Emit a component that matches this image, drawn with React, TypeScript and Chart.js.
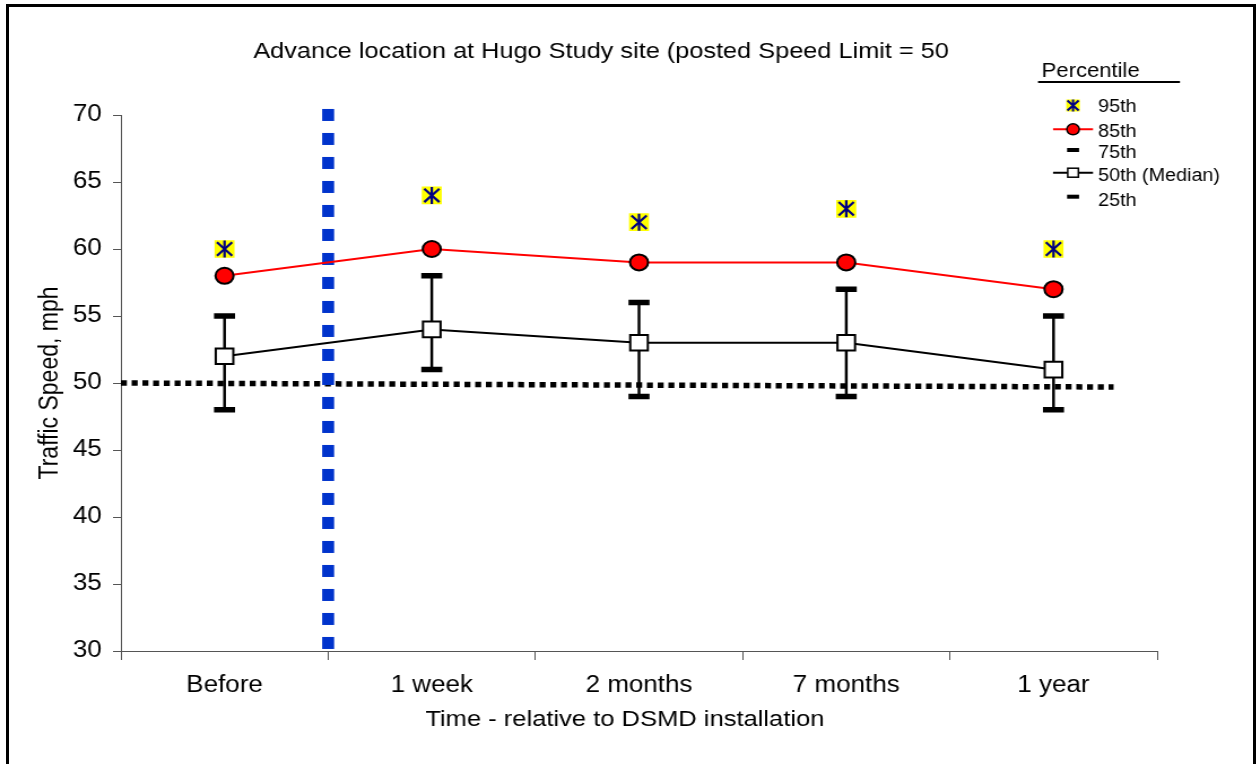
import React, { useEffect, useRef } from 'react';
import { Chart, registerables } from 'chart.js';

Chart.register(...registerables);

const FONT = '"Liberation Sans", Arial, Helvetica, sans-serif';

// ---- data ----
const categories = ['Before', '1 week', '2 months', '7 months', '1 year'];
const p95 = [60, 64, 62, 63, 60];
const p85 = [58, 60, 59, 59, 57];
const p75 = [55, 58, 56, 57, 55];
const p50 = [52, 54, 53, 53, 51];
const p25 = [48, 51, 49, 49, 48];
const yTickValues = [30, 35, 40, 45, 50, 55, 60, 65, 70];
// reference lines on a hidden linear x axis (0..5 spans the category axis)
const speedLimitLine = [
  { x: 0, y: 50 },
  { x: 4.79, y: 49.7 },
];
const installLine = [
  { x: 1, y: 70.45 },
  { x: 1, y: 30 },
];

const chartTitle = 'Advance location at Hugo Study site (posted Speed Limit = 50';
const xTitle = 'Time - relative to DSMD installation';
const yTitle = 'Traffic Speed, mph';
const legendTitle = 'Percentile';
const legendLabels = ['95th', '85th', '75th', '50th (Median)', '25th'];

// horizontal stretch applied to the canvas (the reference is stretched horizontally)
const STRETCH = 1.13;
const CW = 1114;
const CH = 764;

const overlayPlugin = {
  id: 'overlay',
  afterDraw(chart: any) {
    const ctx: CanvasRenderingContext2D = chart.ctx;
    ctx.save();
    ctx.fillStyle = '#000';
    ctx.textBaseline = 'alphabetic';
    ctx.textAlign = 'center';
    ctx.font = `22.4px ${FONT}`;
    ctx.fillText(chartTitle, 531.9, 58);
    ctx.font = `22.6px ${FONT}`;
    ctx.fillText(xTitle, 553, 726);

    // legend
    ctx.textAlign = 'left';
    ctx.font = `19.5px ${FONT}`;
    ctx.fillText(legendTitle, 921.8, 77);
    ctx.fillRect(918.6, 81, 125.6, 2);

    const mx = 949.6;
    const tx = 971.7;
    const rowMarker = [105.5, 129.3, 150, 172.7, 196.7];
    const rowText = [112.3, 137.3, 158.3, 180.7, 205.7];
    ctx.font = `17.5px ${FONT}`;
    legendLabels.forEach((lab, i) => {
      ctx.fillStyle = '#000';
      ctx.fillText(lab, tx, rowText[i]);
    });

    // 95th
    let cy = rowMarker[0];
    ctx.fillStyle = '#ffff00';
    ctx.fillRect(mx - 6, cy - 6, 12, 12);
    ctx.strokeStyle = '#000080';
    ctx.lineWidth = 2;
    ctx.beginPath();
    ctx.moveTo(mx - 5, cy - 5);
    ctx.lineTo(mx + 5, cy + 5);
    ctx.moveTo(mx + 5, cy - 5);
    ctx.lineTo(mx - 5, cy + 5);
    ctx.moveTo(mx, cy - 6);
    ctx.lineTo(mx, cy + 6);
    ctx.stroke();

    // 85th
    cy = rowMarker[1];
    ctx.strokeStyle = '#ff0000';
    ctx.lineWidth = 2;
    ctx.beginPath();
    ctx.moveTo(931.9, cy);
    ctx.lineTo(967.3, cy);
    ctx.stroke();
    ctx.beginPath();
    ctx.arc(mx, cy, 5.5, 0, Math.PI * 2);
    ctx.fillStyle = '#ff0000';
    ctx.fill();
    ctx.strokeStyle = '#000';
    ctx.lineWidth = 1.5;
    ctx.stroke();

    // 75th
    ctx.fillStyle = '#000';
    ctx.fillRect(mx - 5.3, rowMarker[2] - 2, 10.6, 4);

    // 50th
    cy = rowMarker[3];
    ctx.strokeStyle = '#000';
    ctx.lineWidth = 2;
    ctx.beginPath();
    ctx.moveTo(931.9, cy);
    ctx.lineTo(967.3, cy);
    ctx.stroke();
    ctx.fillStyle = '#fff';
    ctx.fillRect(mx - 4.7, cy - 4.5, 9.4, 9);
    ctx.lineWidth = 1.5;
    ctx.strokeRect(mx - 4.7, cy - 4.5, 9.4, 9);

    // 25th
    ctx.fillStyle = '#000';
    ctx.fillRect(mx - 5.3, rowMarker[4] - 2, 10.6, 4);

    ctx.restore();
  },
};

export default function App() {
  const ref = useRef<HTMLCanvasElement>(null);

  useEffect(() => {
    if (!ref.current) return;
    Chart.defaults.font.family = FONT;
    const chart = new Chart(ref.current, {
      type: 'line',
      data: {
        labels: categories,
        datasets: [
          {
            type: 'line',
            label: '95th-bg',
            data: p95,
            showLine: false,
            pointStyle: 'rect',
            pointRadius: 12.5,
            pointBackgroundColor: '#ffff00',
            pointBorderWidth: 0,
            order: 3,
          } as any,
          {
            type: 'line',
            label: '95th-x',
            data: p95,
            showLine: false,
            pointStyle: 'crossRot',
            pointRadius: 9.5,
            pointBorderColor: '#000080',
            pointBorderWidth: 2.2,
            order: 2,
          },
          {
            type: 'line',
            label: '95th',
            data: p95,
            showLine: false,
            pointStyle: 'line',
            pointRotation: 90,
            pointRadius: 8.5,
            pointBorderColor: '#000080',
            pointBorderWidth: 2.2,
            order: 1,
          },
          {
            type: 'line',
            label: '85th',
            data: p85,
            borderColor: '#ff0000',
            borderWidth: 2,
            pointStyle: 'circle',
            pointRadius: 8,
            pointBackgroundColor: '#ff0000',
            pointBorderColor: '#000',
            pointBorderWidth: 2,
            tension: 0,
            order: 4,
          },
          {
            type: 'line',
            label: '50th (Median)',
            data: p50,
            borderColor: '#000',
            borderWidth: 2,
            pointStyle: 'rect',
            pointRadius: 11,
            pointBackgroundColor: '#fff',
            pointBorderColor: '#000',
            pointBorderWidth: 2,
            tension: 0,
            order: 5,
          },
          {
            type: 'line',
            label: '75th',
            data: p75,
            showLine: false,
            pointStyle: 'line',
            pointRadius: 9.3,
            pointBorderColor: '#000',
            pointBorderWidth: 5.5,
            order: 6,
          },
          {
            type: 'line',
            label: '25th',
            data: p25,
            showLine: false,
            pointStyle: 'line',
            pointRadius: 9.3,
            pointBorderColor: '#000',
            pointBorderWidth: 5.5,
            order: 6,
          },
          {
            type: 'bar',
            label: 'range',
            data: p25.map((v, i) => [v, p75[i]]),
            backgroundColor: '#000',
            borderWidth: 0,
            barThickness: 1.8,
            grouped: false,
            order: 7,
          } as any,
          {
            type: 'line',
            label: 'installation',
            xAxisID: 'x2',
            data: installLine,
            borderColor: '#0033cc',
            borderWidth: 10.6,
            borderDash: [12, 12],
            borderCapStyle: 'butt',
            pointRadius: 0,
            clip: false,
            order: 8,
          } as any,
          {
            type: 'line',
            label: 'speed limit',
            xAxisID: 'x2',
            data: speedLimitLine,
            borderColor: '#000',
            borderWidth: 5.5,
            borderDash: [5.3, 4.2],
            borderCapStyle: 'butt',
            pointRadius: 0,
            clip: false,
            order: 9,
          } as any,
        ],
      },
      options: {
        animation: false,
        responsive: true,
        maintainAspectRatio: false,
        events: [],
        layout: { padding: { left: 0, right: 90, top: 115, bottom: 0 } },
        plugins: {
          legend: { display: false },
          tooltip: { enabled: false },
          title: { display: false },
        },
        scales: {
          x: {
            type: 'category',
            offset: true,
            grid: {
              offset: true,
              drawOnChartArea: false,
              drawTicks: true,
              tickLength: 9,
              color: '#555',
              lineWidth: 1,
            },
            border: { display: true, color: '#555', width: 1 },
            ticks: {
              color: '#000',
              font: { size: 23 },
              padding: 12,
              maxRotation: 0,
              autoSkip: false,
            },
            afterFit: (s: any) => {
              s.height = 113;
            },
          },
          x2: {
            type: 'linear',
            min: 0,
            max: 5,
            display: false,
            offset: false,
          },
          y: {
            type: 'linear',
            min: 30,
            max: 70,
            afterBuildTicks: (s: any) => {
              s.ticks = yTickValues.map((v) => ({ value: v }));
            },
            grid: {
              drawOnChartArea: false,
              drawTicks: true,
              tickLength: 7,
              color: '#555',
            },
            border: { display: true, color: '#555', width: 1 },
            ticks: { color: '#000', font: { size: 23 }, padding: 10 },
            title: {
              display: true,
              text: yTitle,
              color: '#000',
              font: { size: 23 },
              padding: { top: 31, bottom: 0 },
            },
            afterFit: (s: any) => {
              s.width = 107;
            },
          },
        },
      } as any,
      plugins: [overlayPlugin],
    });
    return () => chart.destroy();
  }, []);

  return (
    <div
      style={{
        position: 'fixed',
        left: 0,
        top: 0,
        width: 1259,
        height: 764,
        overflow: 'hidden',
        background: '#fff',
      }}
    >
      <div
        style={{
          position: 'absolute',
          left: 6,
          top: 4,
          width: 1244,
          height: 820,
          border: '3px solid #000',
          borderBottom: 'none',
          boxSizing: 'content-box',
        }}
      />
      <div
        style={{
          position: 'absolute',
          left: 0,
          top: 0,
          width: CW,
          height: CH,
          transform: `scaleX(${STRETCH})`,
          transformOrigin: '0 0',
        }}
      >
        <canvas ref={ref} />
      </div>
    </div>
  );
}
